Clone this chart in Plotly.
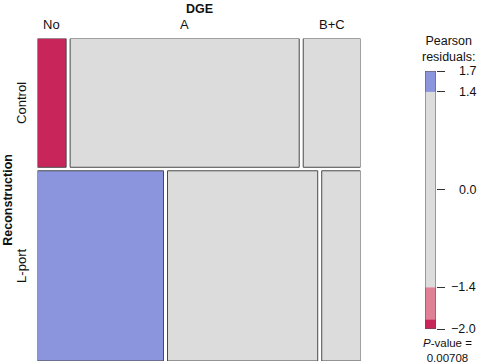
import plotly.graph_objects as go

# ---- data ----
col_var = "DGE"
row_var = "Reconstruction"
col_labels = ["No", "A", "B+C"]
row_labels = ["Control", "L-port"]
counts_control = [4, 32, 8]
counts_lport = [26, 31, 8]
residuals_control = [-2.0, 0.9, 0.3]
residuals_lport = [1.7, -0.8, -0.3]
legend_ticks = [1.7, 1.4, 0.0, -1.4, -2.0]
legend_min = -2.0
legend_max = 1.7
thr1 = 1.4
thr2 = 1.86
p_value_text = "0.00708"

# ---- styles ----
FONT = "Liberation Sans, Arial, Helvetica, sans-serif"
GRAY = "#DCDCDC"
RED_DARK = "#C8265A"
RED_LIGHT = "#DF8094"
BLUE_DARK = "#5A66D6"
BLUE_LIGHT = "#8B95DD"
EDGE = "#4a4a4a"

W, H = 480, 363

def shade(r):
    if r >= thr2:
        return BLUE_DARK
    if r >= thr1:
        return BLUE_LIGHT
    if r <= -thr2:
        return RED_DARK
    if r <= -thr1:
        return RED_LIGHT
    return GRAY

fig = go.Figure()

# mosaic geometry in data units
gx = 4.0 / 323.0
gy = 3.5 / 322.5
rows = [counts_control, counts_lport]
res = [residuals_control, residuals_lport]
totals = [sum(r) for r in rows]
N = sum(totals)

shapes = []
annotations = []
ytop = 1.0
for ri, (cnts, rr) in enumerate(zip(rows, res)):
    h = (1 - gy) * totals[ri] / N
    y1 = ytop
    y0 = ytop - h
    x = 0.0
    for ci, (c, r) in enumerate(zip(cnts, rr)):
        w = (1 - (len(cnts) - 1) * gx) * c / totals[ri]
        shapes.append(dict(type="rect", xref="x", yref="y", x0=x, x1=x + w,
                           y0=y0, y1=y1, fillcolor=shade(r),
                           line=dict(color=EDGE, width=1), layer="above"))
        if ri == 0:
            annotations.append(dict(x=x + w / 2, y=1 - 24 / H, xref="x", yref="paper",
                                    text=col_labels[ci], showarrow=False,
                                    xanchor="center", yanchor="middle",
                                    font=dict(size=13, color="#111", family=FONT)))
        x += w + gx
    annotations.append(dict(x=22 / W, y=(y0 + y1) / 2, xref="paper", yref="y",
                            text=row_labels[ri], textangle=-90, showarrow=False,
                            xanchor="center", yanchor="middle",
                            font=dict(size=13, color="#111", family=FONT)))
    ytop = y0 - gy

annotations.append(dict(x=0.5, y=1 - 9 / H, xref="x domain", yref="paper",
                        text="<b>%s</b>" % col_var, showarrow=False, yanchor="middle",
                        font=dict(size=12.5, color="#111", family=FONT)))
annotations.append(dict(x=8 / W, y=0.5, xref="paper", yref="y domain",
                        text="<b>%s</b>" % row_var, textangle=-90, showarrow=False,
                        xanchor="center", yanchor="middle",
                        font=dict(size=12.5, color="#111", family=FONT)))

# legend bar segments
segs = [(legend_min, -thr2, RED_DARK), (-thr2, -thr1, RED_LIGHT),
        (-thr1, thr1, GRAY), (thr1, legend_max, BLUE_LIGHT)]
for lo, hi, col in segs:
    shapes.append(dict(type="rect", xref="x2", yref="y2", x0=0, x1=1, y0=lo, y1=hi,
                       fillcolor=col, line=dict(width=0), layer="above"))
shapes.append(dict(type="rect", xref="x2", yref="y2", x0=0, x1=1,
                   y0=legend_min, y1=legend_max, fillcolor="rgba(0,0,0,0)",
                   line=dict(color="#555", width=1), layer="above"))

for t in legend_ticks:
    annotations.append(dict(x=478 / W, y=t, xref="paper", yref="y2", xanchor="right",
                            yanchor="middle",
                            text=("%.1f" % t).replace("-", "\u2212"), showarrow=False,
                            font=dict(size=12.5, color="#111", family=FONT)))

annotations.append(dict(x=449 / W, y=1 - 49 / H, xref="paper", yref="paper",
                        xanchor="center", yanchor="middle",
                        text="Pearson<br>residuals:", showarrow=False,
                        font=dict(size=12.5, color="#111", family=FONT)))
annotations.append(dict(x=447 / W, y=1 - 350 / H, xref="paper", yref="paper",
                        xanchor="center", yanchor="middle",
                        text="<i>P</i>-value =<br>%s" % p_value_text, showarrow=False,
                        font=dict(size=11.5, color="#111", family=FONT)))

fig.add_trace(go.Scatter(x=[0], y=[0], mode="markers", marker=dict(opacity=0),
                         hoverinfo="skip", showlegend=False, xaxis="x", yaxis="y"))
fig.add_trace(go.Scatter(x=[0], y=[0], mode="markers", marker=dict(opacity=0),
                         hoverinfo="skip", showlegend=False, xaxis="x2", yaxis="y2"))

fig.update_layout(
    width=W, height=H, margin=dict(l=0, r=0, t=0, b=0),
    paper_bgcolor="white", plot_bgcolor="rgba(0,0,0,0)",
    showlegend=False, shapes=shapes, annotations=annotations,
    xaxis=dict(domain=[37.5 / W, 360.5 / W], range=[0, 1], visible=False, fixedrange=True),
    yaxis=dict(domain=[1 - 361 / H, 1 - 38.5 / H], range=[0, 1], visible=False, fixedrange=True),
    xaxis2=dict(domain=[425 / W, 436 / W], range=[0, 1], visible=False, anchor="y2"),
    yaxis2=dict(domain=[1 - 329 / H, 1 - 71 / H], range=[legend_min, legend_max],
                anchor="x2", side="right", ticks="outside", ticklen=8, tickwidth=1,
                tickcolor="#333", tickvals=legend_ticks, showticklabels=False,
                showgrid=False, zeroline=False, showline=False),
)

fig.write_html("out.html", config={"displayModeBar": False},
               post_script="document.body.style.margin='0';document.body.style.overflow='hidden';")
